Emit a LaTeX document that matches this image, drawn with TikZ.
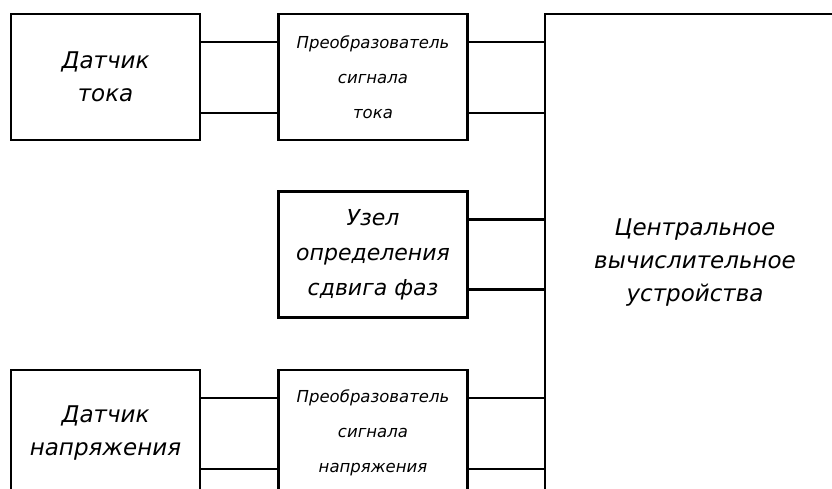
\documentclass[tikz,border=0pt]{standalone}
\usepackage{fontspec}
\setmainfont{DejaVu Sans}
\usetikzlibrary{positioning}
\tikzset{
    sensor/.style={
           rectangle,
           draw=black, line width=2.5pt,
           minimum width=189pt, minimum height=126pt,
           inner sep=0pt,
           align=center,
           font=\itshape\fontsize{23}{33}\selectfont,
           },
}
\tikzset{
    conv/.style={
           rectangle,
           draw=black, line width=2.5pt,
           minimum width=189pt, minimum height=126pt,
           inner sep=0pt,
           align=center,
           font=\itshape\fontsize{16.5}{35}\selectfont,
           },
}
\tikzset{
    unit/.style={
           rectangle,
           draw=black, line width=2.5pt,
           minimum width=189pt, minimum height=126pt,
           inner sep=0pt,
           align=center,
           font=\itshape\fontsize{22}{35}\selectfont,
           },
}
\tikzset{
    cpu/.style={
           rectangle,
           draw=black, line width=2.5pt,
           minimum width=300pt, minimum height=498pt,
           inner sep=0pt,
           align=center,
           font=\itshape\fontsize{23}{33}\selectfont,
           },
}
\tikzset{
    link/.style={-, line width=2.4pt},
}

\begin{document}
\begin{tikzpicture}[x=1pt,y=1pt]
\useasboundingbox (0,0) rectangle (832,489);
\clip (0,0) rectangle (832,489);
\node[sensor](DT) at (105.5,412){Датчик\\тока};
\node[conv,right = 76pt of DT](PT){Преобразователь\\сигнала\\тока};
\node[unit,below = 49pt of PT](UZ){Узел\\определения\\сдвига фаз};
\node[conv,below = 50pt of UZ](PN){Преобразователь\\сигнала\\напряжения};
\node[sensor,left = 76pt of PN](DN){Датчик\\напряжения};
\node[cpu,right = 75pt of PT.north east,anchor=north west](CPU){Центральное\\вычислительное\\устройства};
% current branch
\path ([yshift=35pt]DT.east) edge[link] ([yshift=35pt]PT.west);
\path ([yshift=-36pt]DT.east) edge[link] ([yshift=-36pt]PT.west);
\path ([yshift=35pt]PT.east) edge[link] ([yshift=35pt]PT.east -| CPU.west);
\path ([yshift=-36pt]PT.east) edge[link] ([yshift=-36pt]PT.east -| CPU.west);
% phase unit
\path ([yshift=35pt]UZ.east) edge[link] ([yshift=35pt]UZ.east -| CPU.west);
\path ([yshift=-35pt]UZ.east) edge[link] ([yshift=-35pt]UZ.east -| CPU.west);
% voltage branch
\path ([yshift=35pt]DN.east) edge[link] ([yshift=35pt]PN.west);
\path ([yshift=-36pt]DN.east) edge[link] ([yshift=-36pt]PN.west);
\path ([yshift=35pt]PN.east) edge[link] ([yshift=35pt]PN.east -| CPU.west);
\path ([yshift=-36pt]PN.east) edge[link] ([yshift=-36pt]PN.east -| CPU.west);
\end{tikzpicture}
\end{document}
